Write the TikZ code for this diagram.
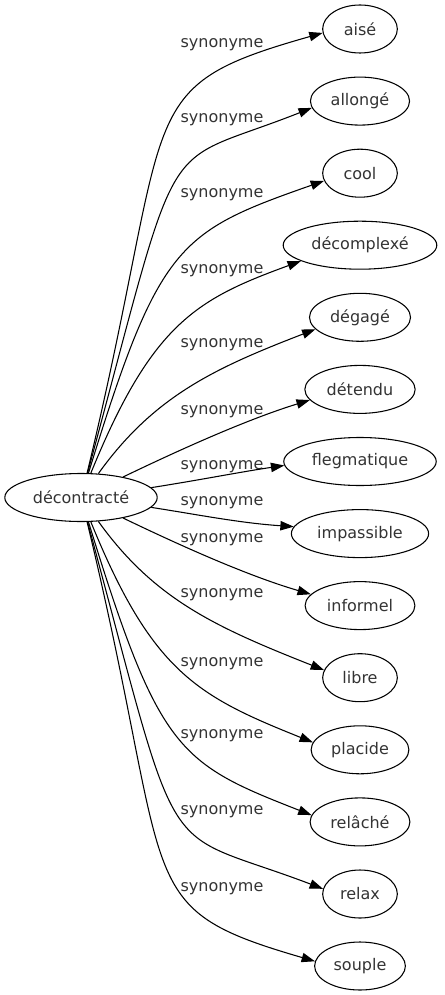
\documentclass[tikz,border=0pt]{standalone}
\usepackage{fontspec}
\setmainfont{DejaVu Sans}
\usepackage{tikz}
\usetikzlibrary{shapes,arrows.meta}
\tikzstyle{word} = [ellipse, draw=black, line width=0.8pt, text=black!80, minimum width=56pt,
minimum height=36pt, inner xsep=4.3pt, inner ysep=0pt, font=\fontsize{12pt}{14pt}\selectfont]
\tikzstyle{rel} = [text=black!80, inner sep=0pt, font=\fontsize{12pt}{14pt}\selectfont]
\tikzstyle{arrow} = [line width=0.8pt,->,>={Triangle[length=10pt,width=7pt]}]

\begin{document}
\begin{tikzpicture}[x=0.75pt,y=-0.75pt]
                        \useasboundingbox (0,0) rectangle (444,995);
                        \node[word] (dec) at (81,497.5) {décontracté};
                        \node[word] (aise) at (360,29) {aisé};
                        \node[word] (allonge) at (360,101.1) {allongé};
                        \node[word] (cool) at (360,173.2) {cool};
                        \node[word] (decomplexe) at (360,245.2) {décomplexé};
                        \node[word] (degage) at (360,317.3) {dégagé};
                        \node[word] (detendu) at (360,389.4) {détendu};
                        \node[word] (flegmatique) at (360,461.5) {flegmatique};
                        \node[word] (impassible) at (360,533.6) {impassible};
                        \node[word] (informel) at (360,605.6) {informel};
                        \node[word] (libre) at (360,677.7) {libre};
                        \node[word] (placide) at (360,749.8) {placide};
                        \node[word] (relache) at (360,821.9) {relâché};
                        \node[word] (relax) at (360,894) {relax};
                        \node[word] (souple) at (360,966) {souple};
                        \node[rel] (r1) at (222,45) {synonyme};
                        \node[rel] (r2) at (222,120) {synonyme};
                        \node[rel] (r3) at (222,195) {synonyme};
                        \node[rel] (r4) at (222,271) {synonyme};
                        \node[rel] (r5) at (222,345) {synonyme};
                        \node[rel] (r6) at (222,412) {synonyme};
                        \node[rel] (r7) at (222,467) {synonyme};
                        \node[rel] (r8) at (222,503) {synonyme};
                        \node[rel] (r9) at (222,540) {synonyme};
                        \node[rel] (r10) at (222,595) {synonyme};
                        \node[rel] (r11) at (222,664) {synonyme};
                        \node[rel] (r12) at (222,736) {synonyme};
                        \node[rel] (r13) at (222,812) {synonyme};
                        \node[rel] (r14) at (222,889) {synonyme};
                        \draw[arrow] (dec.76) .. controls (176,104) and (128,88) .. (aise.186);
                        \draw[arrow] (dec.75) .. controls (184,116) and (155,170) .. (allonge.188);
                        \draw[arrow] (dec.73) .. controls (159,244) and (178,232) .. (cool.192);
                        \draw[arrow] (dec.68) .. controls (152,323) and (197,299) .. (decomplexe.195);
                        \draw[arrow] (dec.54) .. controls (154,396) and (215,368) .. (degage.195);
                        \draw[arrow] (dec.26) .. controls (175,452) and (245,420) .. (detendu.192);
                        \draw[arrow] (dec.8) .. controls (200,480) and (240,472) .. (flegmatique.183);
                        \draw[arrow] (dec.-8) .. controls (200,515) and (240,523) .. (impassible.174);
                        \draw[arrow] (dec.-26) .. controls (175,543) and (245,575) .. (informel.167);
                        \draw[arrow] (dec.-54) .. controls (154,599) and (215,627) .. (libre.168);
                        \draw[arrow] (dec.-68) .. controls (152,672) and (197,696) .. (placide.171);
                        \draw[arrow] (dec.-73) .. controls (159,751) and (178,763) .. (relache.172);
                        \draw[arrow] (dec.-75) .. controls (184,879) and (155,825) .. (relax.172);
                        \draw[arrow] (dec.-76) .. controls (176,891) and (128,907) .. (souple.174);
                    \end{tikzpicture}
\end{document}
